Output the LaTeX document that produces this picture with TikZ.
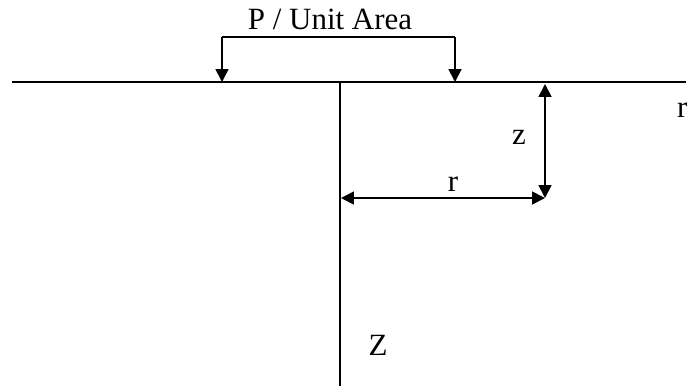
\documentclass[tikz,border=0pt]{standalone}
\usepackage{fontspec}
\setmainfont{Liberation Serif}
\usepackage{tikz}
\usetikzlibrary{arrows.meta, positioning, calc}
\tikzset{
	lbl/.style   ={inner sep=1pt, font=\fontsize{22}{26}\selectfont},
	ground/.style={line width=1.3pt},
	load/.style  ={-{Triangle[length=3.2mm, width=3.2mm]}, line width=1.3pt},
	dim/.style   ={{Triangle[length=3.2mm, width=3.2mm]}-{Triangle[length=3.2mm, width=3.2mm]}, line width=1.3pt},
}
\begin{document}
\begin{tikzpicture}[x=0.025cm, y=-0.025cm]
			\useasboundingbox (0,0) rectangle (689,389);
			% surface and axis
			\coordinate (sL) at (12,82); \coordinate (sR) at (686,82);
			\coordinate (o) at (340,82); \coordinate (ob) at (340,386);
			\draw[ground] (sL) -- (sR);
			\draw[ground] (o) -- (ob);
			% uniform load
			\coordinate (la) at (222,37); \coordinate (lb) at (455,37);
			\coordinate (ta) at (222,82); \coordinate (tb) at (455,82);
			\node[lbl] (load) at (330,19) {P / Unit Area};
			\draw[load] (la) -- (ta);
			\draw[load] (lb) -- (tb);
			\draw[ground] (la) -- (lb);
			% point at depth z and radius r
			\coordinate (pt) at (545,84); \coordinate (pp) at (545,198);
			\coordinate (ax) at (341,198);
			\draw[dim] (pt) -- (pp);
			\draw[dim] (ax) -- (pp);
			\node[lbl] (zl) at (519,137) {z};
			\node[lbl] (rl) at (453,184) {r};
			\node[lbl, anchor=east] (rr) at (689,110) {r};
			\node[lbl] (Zl) at (378,345) {Z};
		\end{tikzpicture}
\end{document}
